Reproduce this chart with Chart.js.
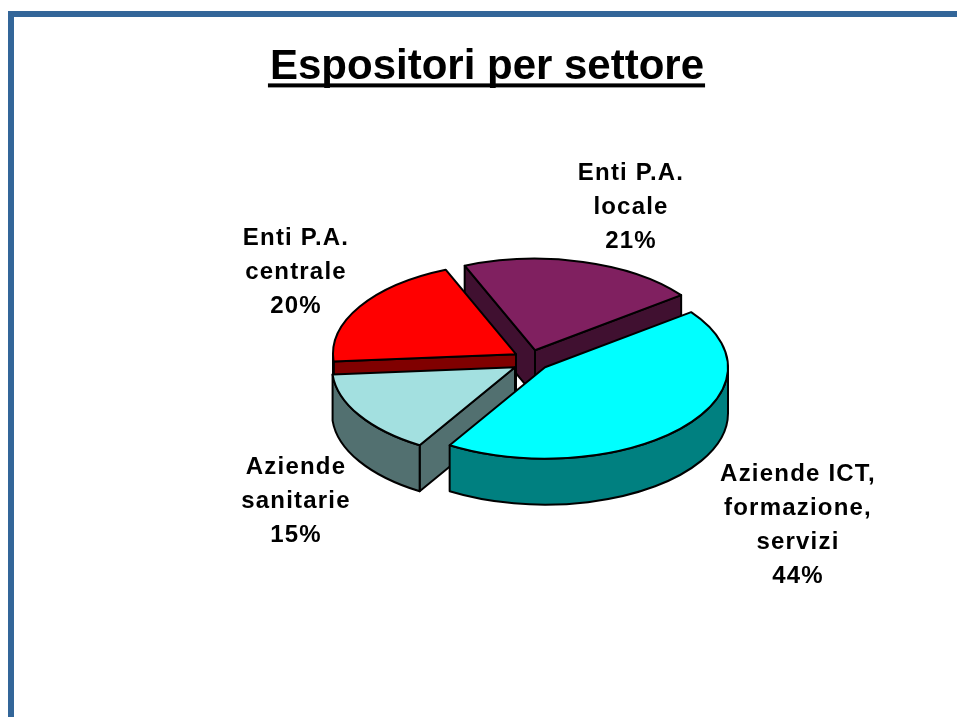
<!DOCTYPE html>
<html>
<head>
<meta charset="utf-8">
<script src="https://cdn.jsdelivr.net/npm/chart.js@4"></script>
<style>
    html, body { margin: 0; padding: 0; background: #fff; overflow: hidden; }
    #frame { position: absolute; left: 8px; top: 11px; right: 0; bottom: 0; border-left: 6px solid #336699; border-top: 6px solid #336699; }
    #box { position: absolute; left: 17px; top: 17px; width: 940px; height: 700px; }
</style>
</head>
<body>
<div id="frame"></div>
<div id="box"><canvas id="pie"></canvas></div>
<script>
var titleText = "Espositori per settore";
var categories = [
    ["Aziende ICT,", "formazione,", "servizi"],
    ["Aziende", "sanitarie"],
    ["Enti P.A.", "centrale"],
    ["Enti P.A.", "locale"]
];
var values = [44, 15, 20, 21];

var topColors = ["#00FFFF", "#A3E0E0", "#FF0000", "#802060"];
var wallColors = ["#008080", "#527070", "#800000", "#401030"];

var SQUASH = 0.5;     // flattening of the pie
var DEPTH = 46;       // height of the wall
var PIE_DX = 38;      // pie sits right of the title centre
// how far each slice is pulled out, and where its label sits, relative to the pie centre
var shifts = [[20, 7], [-10, 7], [-9, -6], [10, -10]];
var labelShifts = [[273, 165], [-229, 141], [-229, -88], [106, -153]];

var pie3d = {
    id: "pie3d",
    beforeDatasetDraw: function (chart, args) {
        var ctx = chart.ctx,
            arcs = args.meta.data;

        // back to front, so nearer slices cover the walls behind them
        for (var i = arcs.length - 1; i >= 0; i--) {
            drawSlice(ctx, arcs[i], i);
        }
        return false;
    },
    afterDraw: function (chart) {
        var ctx = chart.ctx,
            arc = chart.getDatasetMeta(0).data[0],
            block = chart.titleBlock;

        ctx.save();
        ctx.fillStyle = "#000";

        // chart.js has no underlined title
        ctx.font = "bold 42px 'Liberation Sans', Arial, sans-serif";
        var w = ctx.measureText(titleText).width,
            cx = chart.width / 2;
        ctx.fillRect(cx - w / 2 - 2, block.bottom - 9, w + 3, 4);

        ctx.font = "bold 24px 'Liberation Sans', Arial, sans-serif";
        ctx.letterSpacing = "1.2px";
        ctx.textAlign = "center";
        ctx.textBaseline = "middle";
        categories.forEach(function (lines, i) {
            var all = lines.concat([values[i] + "%"]),
                x = arc.x + PIE_DX + labelShifts[i][0],
                y = arc.y + labelShifts[i][1] - (all.length - 1) * 34 / 2;

            all.forEach(function (line, n) {
                ctx.fillText(line, x, y + n * 34);
            });
        });
        ctx.restore();
    }
};

function drawSlice(ctx, arc, i) {
    var p = arc.getProps(["x", "y", "startAngle", "endAngle", "outerRadius"]),
        x = p.x + PIE_DX + shifts[i][0],
        y = p.y + shifts[i][1],
        r = p.outerRadius,
        ry = r * SQUASH,
        a0 = p.startAngle,
        a1 = p.endAngle;

    ctx.save();
    ctx.lineWidth = 2;
    ctx.lineJoin = "round";
    ctx.strokeStyle = "#000";
    ctx.fillStyle = wallColors[i];

    // straight walls that face the viewer
    if (Math.cos(a0) < 0) {
        radialWall(ctx, x, y, r, ry, a0);
    }
    if (Math.cos(a1) > 0) {
        radialWall(ctx, x, y, r, ry, a1);
    }

    // rounded wall, only the front half of the pie shows it
    var from = Math.max(a0, 0),
        to = Math.min(a1, Math.PI);
    if (to > from) {
        ctx.beginPath();
        ctx.ellipse(x, y, r, ry, 0, from, to);
        ctx.ellipse(x, y + DEPTH, r, ry, 0, to, from, true);
        ctx.closePath();
        ctx.fill();
        ctx.stroke();
    }

    // top face is the library's own arc, flattened
    ctx.save();
    ctx.translate(x, y);
    ctx.scale(1, SQUASH);
    ctx.translate(-p.x, -p.y);
    arc.draw(ctx);
    ctx.restore();

    ctx.beginPath();
    ctx.moveTo(x, y);
    ctx.ellipse(x, y, r, ry, 0, a0, a1);
    ctx.closePath();
    ctx.stroke();
    ctx.restore();
}

function radialWall(ctx, x, y, r, ry, a) {
    var ex = x + Math.cos(a) * r,
        ey = y + Math.sin(a) * ry;

    ctx.beginPath();
    ctx.moveTo(x, y);
    ctx.lineTo(ex, ey);
    ctx.lineTo(ex, ey + DEPTH);
    ctx.lineTo(x, y + DEPTH);
    ctx.closePath();
    ctx.fill();
    ctx.stroke();
}

new Chart("pie", {
    type: "pie",
    data: {
        labels: categories.map(function (lines) { return lines.join(" "); }),
        datasets: [{
            data: values,
            backgroundColor: topColors,
            borderWidth: 0
        }]
    },
    options: {
        responsive: true,
        maintainAspectRatio: false,
        animation: false,
        rotation: 53,
        radius: 183,
        layout: { padding: { bottom: 89 } },
        plugins: {
            legend: { display: false },
            tooltip: { enabled: false },
            title: {
                display: true,
                text: titleText,
                color: "#000",
                font: { family: "'Liberation Sans', Arial, sans-serif", size: 42, weight: "bold", lineHeight: 1.2 },
                padding: { top: 25, bottom: 0 }
            }
        }
    },
    plugins: [pie3d]
});
</script>
</body>
</html>
